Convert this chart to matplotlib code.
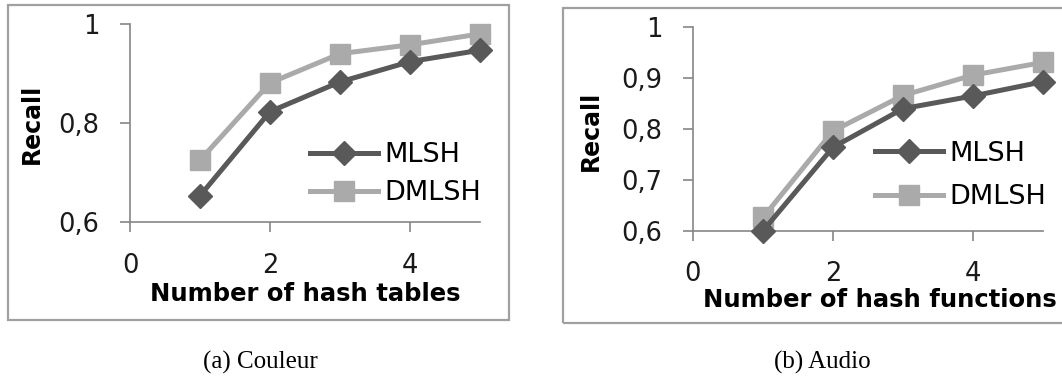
import matplotlib.pyplot as plt
from matplotlib.patches import Rectangle
from matplotlib.ticker import FuncFormatter

# Données
x_vals = [1, 2, 3, 4, 5]
mlsh_couleur = [0.653, 0.823, 0.883, 0.924, 0.947]
dmlsh_couleur = [0.725, 0.881, 0.940, 0.958, 0.980]
mlsh_audio = [0.600, 0.764, 0.840, 0.865, 0.893]
dmlsh_audio = [0.626, 0.796, 0.866, 0.906, 0.931]
x_ticks = [0, 2, 4]
yticks_couleur = [0.6, 0.8, 1.0]
yticks_audio = [0.6, 0.7, 0.8, 0.9, 1.0]
xlabels = ["Number of hash tables", "Number of hash functions"]
captions = ["(a) Couleur", "(b) Audio"]

dark = "#595959"
light = "#aaaaaa"
spine_col = "#868686"
W, H = 1062, 380

plt.rcParams['font.family'] = ['DejaVu Sans']

fig = plt.figure(figsize=(10.62, 3.80), dpi=100)

# cadres gris autour des graphiques
fig.add_artist(Rectangle((7.5 / W, 1 - 320 / H), 501.5 / W, 315.5 / H, transform=fig.transFigure,
                         fill=False, edgecolor="#a0a0a0", lw=1.6))
fig.add_artist(Rectangle((563 / W, 1 - 323 / H), 520 / W, 315 / H, transform=fig.transFigure,
                         fill=False, edgecolor="#a0a0a0", lw=1.6))

ax1 = fig.add_axes([130 / W, 158 / H, 350 / W, 198 / H])
ax2 = fig.add_axes([693 / W, 149.3 / H, 350 / W, 203.4 / H])


def comma(v, pos):
    if abs(v - 1) < 1e-9:
        return "1"
    return ("%g" % v).replace(".", ",")


panels = [
    (ax1, mlsh_couleur, dmlsh_couleur, yticks_couleur, xlabels[0],
     (0.5, -0.303), (-0.245, 0.495), (0.514, 0.242), 0.45),
    (ax2, mlsh_audio, dmlsh_audio, yticks_audio, xlabels[1],
     (0.534, -0.28), (-0.257, 0.49), (0.52, 0.272), 0.65),
]

for ax, m, d, yt, xl, xlpos, ylpos, legpos, lsp in panels:
    ax.plot(x_vals, m, color=dark, lw=3.6, marker="D", ms=12, label="MLSH", clip_on=False, zorder=3)
    ax.plot(x_vals, d, color=light, lw=3.6, marker="s", ms=15, label="DMLSH", clip_on=False, zorder=2)
    ax.set_xlim(0, 5)
    ax.set_ylim(0.6, 1.0)
    ax.set_xticks(x_ticks)
    ax.set_yticks(yt)
    ax.yaxis.set_major_formatter(FuncFormatter(comma))
    for s in ["top", "right"]:
        ax.spines[s].set_visible(False)
    for s in ["left", "bottom"]:
        ax.spines[s].set_color(spine_col)
        ax.spines[s].set_linewidth(1.2)
    ax.tick_params(axis="both", colors=spine_col, labelcolor="#1a1a1a", labelsize=18.5,
                   length=7, width=1.2)
    ax.tick_params(axis="x", pad=15)
    ax.tick_params(axis="y", pad=15)
    ax.set_xlabel(xl, fontsize=17.5, fontweight="bold", va="top")
    ax.xaxis.set_label_coords(*xlpos)
    ax.set_ylabel("Recall", fontsize=17, fontweight="bold")
    ax.yaxis.set_label_coords(*ylpos)
    ax.legend(loc="center left", bbox_to_anchor=legpos, frameon=False, fontsize=19.5,
              handlelength=2.5, handletextpad=0.25, labelspacing=lsp, borderpad=0,
              borderaxespad=0)

fig.text(260 / W, 1 - 362 / H, captions[0], family="Liberation Serif", fontsize=18,
         ha="center", va="center")
fig.text(822 / W, 1 - 362 / H, captions[1], family="Liberation Serif", fontsize=18,
         ha="center", va="center")

fig.savefig("out.png", dpi=100)
